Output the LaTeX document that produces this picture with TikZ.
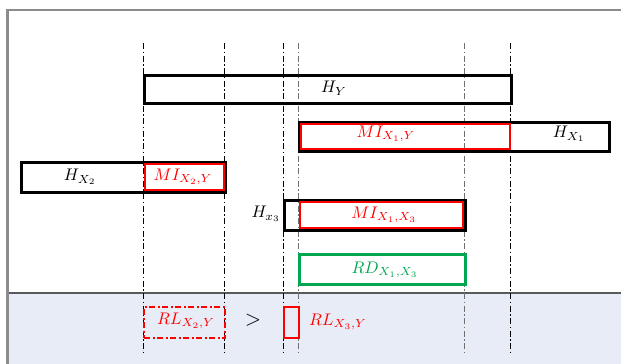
\documentclass[tikz,border=0pt]{standalone}
\usepackage{graphicx}
\usetikzlibrary{positioning}
\definecolor{framegray}{HTML}{8C8C8C}
\definecolor{sepgray}{HTML}{5A5A5A}
\definecolor{lightblue}{HTML}{E7ECF6}
\definecolor{myred}{HTML}{FF0000}
\definecolor{mygreen}{HTML}{00A650}
\definecolor{guidegray}{HTML}{707070}
\newcommand{\lbtext}[1]{\scalebox{1.68}{$#1$}}
\tikzset{
  blackbox/.style={draw=black, line width=2.6pt, inner sep=0pt, anchor=north west},
  redbox/.style={draw=myred, line width=2pt, inner sep=0pt, anchor=north west},
  greenbox/.style={draw=mygreen, line width=2.6pt, inner sep=0pt, anchor=north west},
  rldash/.style={draw=myred, line width=2.2pt, dash pattern=on 6pt off 2.5pt on 2pt off 2.5pt, inner sep=0pt, anchor=north west},
  guide/.style={line width=0.8pt, dash pattern=on 6pt off 2.5pt on 1.5pt off 2.5pt},
  lbl/.style={inner sep=0pt},
}
\begin{document}
\begin{tikzpicture}[x=1pt,y=-1pt]
\useasboundingbox (0,0) rectangle (621,364);
% background and frame
\fill[white] (0,0) rectangle (621,364);
\fill[lightblue] (8,293.5) rectangle (621,364);
\draw[framegray, line width=2.4pt] (7.5,364) -- (7.5,10) -- (621,10);
\draw[sepgray, line width=2pt] (8.5,292.5) -- (621,292.5);
% guide lines
\coordinate (g1t) at (143,43); \coordinate (g1b) at (143,353);
\coordinate (g2t) at (224,43); \coordinate (g2b) at (224,353);
\coordinate (g3t) at (283,43); \coordinate (g3b) at (283,353);
\coordinate (g4t) at (298,43); \coordinate (g4b) at (298,353);
\coordinate (g5t) at (464,43); \coordinate (g5b) at (464,353);
\coordinate (g6t) at (510,43); \coordinate (g6b) at (510,353);
\draw[guide, black] (g1t) -- (g1b);
\draw[guide, black] (g2t) -- (g2b);
\draw[guide, black] (g3t) -- (g3b);
\draw[guide, guidegray] (g4t) -- (g4b);
\draw[guide, guidegray] (g5t) -- (g5b);
\draw[guide, black] (g6t) -- (g6b);
% H_Y
\node[blackbox, minimum width=367pt, minimum height=28pt] (hy) at (143,74) {};
\node[lbl] (hyl) at (334,88) {\lbtext{H_Y}};
% H_X1 and MI_X1,Y
\node[blackbox, minimum width=310pt, minimum height=29pt] (hx1) at (298,121) {};
\node[redbox, minimum width=209pt, minimum height=25pt] (mixy) at (300,123) {};
\node[lbl, myred] (mixyl) at (386,134) {\lbtext{MI_{X_1,Y}}};
\node[lbl] (hx1l) at (569,134) {\lbtext{H_{X_1}}};
% H_X2 and MI_X2,Y
\node[blackbox, minimum width=204pt, minimum height=30pt] (hx2) at (20,161) {};
\node[redbox, minimum width=79pt, minimum height=26pt] (mix2y) at (144,163) {};
\node[lbl] (hx2l) at (80,177) {\lbtext{H_{X_2}}};
\node[lbl, myred] (mix2yl) at (183,177) {\lbtext{MI_{X_2,Y}}};
% H_x3 and MI_X1,X3
\node[blackbox, minimum width=181pt, minimum height=30pt] (hx3) at (283,199) {};
\node[redbox, minimum width=163pt, minimum height=26pt] (mix13) at (299,201) {};
\node[lbl] (hx3l) at (266,214) {\lbtext{H_{x_3}}};
\node[lbl, myred] (mix13l) at (384,215) {\lbtext{MI_{X_1,X_3}}};
% RD
\node[greenbox, minimum width=166pt, minimum height=30pt] (rd) at (298,253) {};
\node[lbl, mygreen] (rdl) at (385,270) {\lbtext{RD_{X_1,X_3}}};
% bottom row
\node[rldash, minimum width=81pt, minimum height=31pt] (rl2) at (143,306) {};
\node[lbl, myred] (rl2l) at (186,321) {\lbtext{RL_{X_2,Y}}};
\node[lbl] (gt) at (253,320) {\scalebox{2.1}{$>$}};
\node[redbox, line width=2.2pt, minimum width=15pt, minimum height=31pt] (rl3) at (283,306) {};
\node[lbl, myred] (rl3l) at (338,322) {\lbtext{RL_{X_3,Y}}};
\end{tikzpicture}
\end{document}
